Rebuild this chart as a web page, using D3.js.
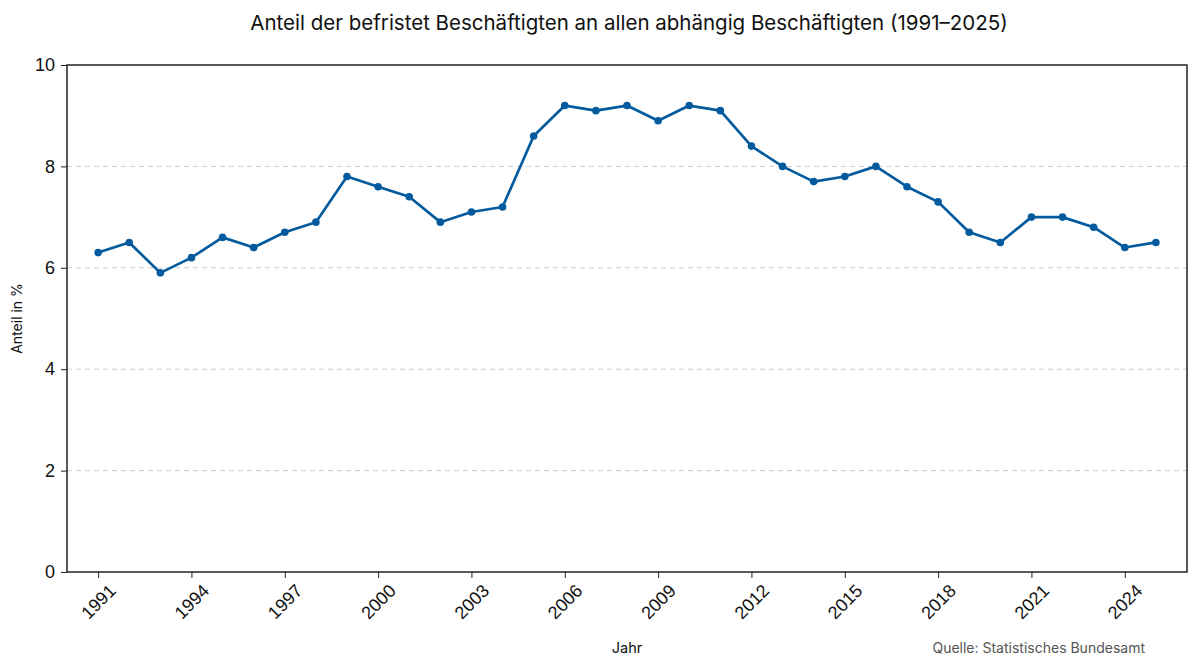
<!DOCTYPE html>
<meta charset="utf-8">
<style>
body { margin: 0; background: #fff; }
svg { font-family: "Inter", "Noto Sans", sans-serif; }
.grid line { stroke: #cccccc; stroke-dasharray: 5,4; }
.axis text { font-size: 18px; fill: #111; }
.axis path, .axis line { stroke: #222; }
</style>
<svg id="chart" width="1200" height="669"></svg>
<script src="https://cdn.jsdelivr.net/npm/d3@7"></script>
<script>
var years = d3.range(1991, 2026);
var anteil = [6.3, 6.5, 5.9, 6.2, 6.6, 6.4, 6.7, 6.9, 7.8, 7.6,
              7.4, 6.9, 7.1, 7.2, 8.6, 9.2, 9.1, 9.2, 8.9, 9.2,
              9.1, 8.4, 8.0, 7.7, 7.8, 8.0, 7.6, 7.3, 6.7, 6.5,
              7.0, 7.0, 6.8, 6.4, 6.5];
var xTicks = [1991, 1994, 1997, 2000, 2003, 2006, 2009, 2012, 2015, 2018, 2021, 2024];
var yTicks = [0, 2, 4, 6, 8, 10];

var svg = d3.select("#chart"),
    margin = {top: 65, right: 13, bottom: 97, left: 67},
    width = 1200 - margin.left - margin.right,
    height = 669 - margin.top - margin.bottom;

var g = svg.append("g").attr("transform", "translate(" + margin.left + "," + margin.top + ")");

var x = d3.scaleLinear().domain([1990, 2026]).range([0, width]);
var y = d3.scaleLinear().domain([0, 10]).range([height, 0]);

// gridlines (no line at 0 or 10)
g.append("g").attr("class", "grid")
  .selectAll("line")
  .data(yTicks.filter(function(d) { return d > 0 && d < 10; }))
  .enter().append("line")
    .attr("x1", 0).attr("x2", width)
    .attr("y1", function(d) { return y(d); })
    .attr("y2", function(d) { return y(d); });

// y axis
var yAxis = g.append("g").attr("class", "axis")
  .call(d3.axisLeft(y).tickValues(yTicks).tickSize(6).tickPadding(6));
yAxis.select(".domain").remove();

// x axis, labels rotated 45deg with their box centred under the tick
var xAxis = g.append("g").attr("class", "axis")
  .call(d3.axisBottom(x).tickValues(xTicks).tickFormat(d3.format("d")).tickSize(6))
  .attr("transform", "translate(0," + height + ")");
xAxis.select(".domain").remove();
xAxis.selectAll("text")
  .attr("text-anchor", "middle")
  .attr("dominant-baseline", "central")
  .attr("y", null).attr("dy", null)
  .attr("transform", function() {
    var w = this.getComputedTextLength(), h = 13;
    var off = 11 + (w + h) / (2 * Math.SQRT2);
    return "translate(0," + off + ") rotate(-45)";
  });

// frame
g.append("rect")
  .attr("width", width).attr("height", height)
  .attr("fill", "none").attr("stroke", "#222").attr("stroke-width", 1.5);

// line
var line = d3.line()
  .x(function(d, i) { return x(years[i]); })
  .y(function(d) { return y(d); });

g.append("path")
  .datum(anteil)
  .attr("fill", "none")
  .attr("stroke", "#035b9e")
  .attr("stroke-width", 2.7)
  .attr("stroke-linejoin", "round")
  .attr("d", line);

g.selectAll(".dot")
  .data(anteil)
  .enter().append("circle")
    .attr("class", "dot")
    .attr("cx", function(d, i) { return x(years[i]); })
    .attr("cy", function(d) { return y(d); })
    .attr("r", 3.8)
    .attr("fill", "#035b9e");

// title and labels
svg.append("text")
  .attr("x", 629).attr("y", 30)
  .attr("text-anchor", "middle")
  .style("font-size", "20.5px").style("fill", "#111")
  .text("Anteil der befristet Beschäftigten an allen abhängig Beschäftigten (1991–2025)");

svg.append("text")
  .attr("transform", "translate(22," + (margin.top + height / 2) + ") rotate(-90)")
  .attr("text-anchor", "middle")
  .style("font-size", "14px").style("fill", "#111")
  .text("Anteil in %");

svg.append("text")
  .attr("x", margin.left + width / 2).attr("y", 653)
  .attr("text-anchor", "middle")
  .style("font-size", "14.5px").style("fill", "#111")
  .text("Jahr");

svg.append("text")
  .attr("x", 1145).attr("y", 653)
  .attr("text-anchor", "end")
  .style("font-size", "14px").style("fill", "#555")
  .text("Quelle: Statistisches Bundesamt");
</script>
